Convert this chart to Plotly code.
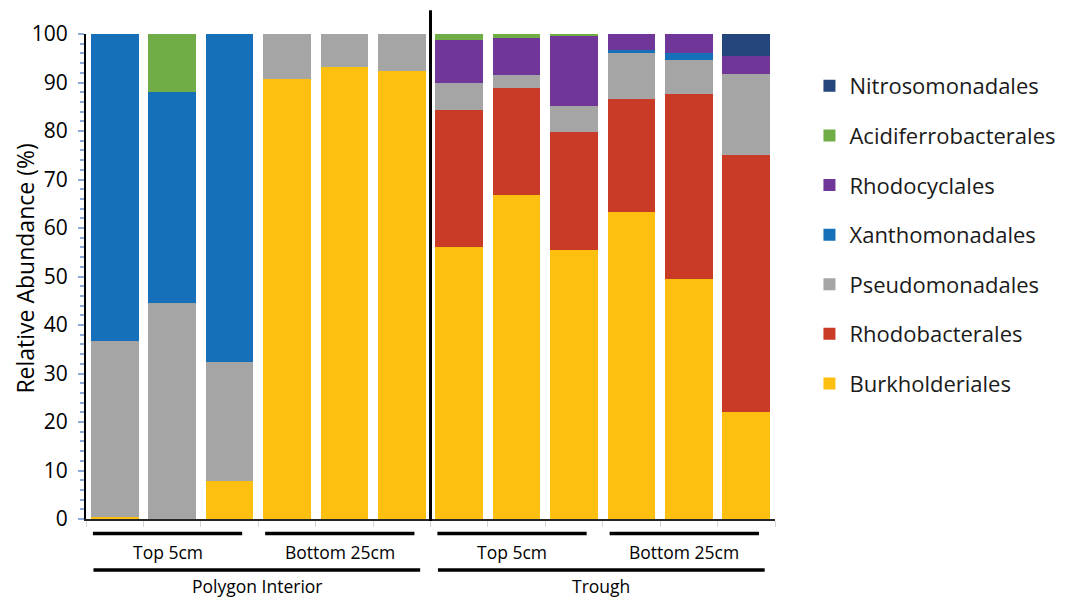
import plotly.graph_objects as go

# Relative abundance (%) of bacterial orders, 12 samples:
# Polygon Interior (Top 5cm x3, Bottom 25cm x3), Trough (Top 5cm x3, Bottom 25cm x3)
burkholderiales = [0.5, 0.0, 7.8, 90.7, 93.1, 92.4, 56.1, 66.9, 55.5, 63.2, 49.5, 22.0]
rhodobacterales = [0.0, 0.0, 0.0, 0.0, 0.0, 0.0, 28.2, 21.9, 24.3, 23.5, 38.2, 53.1]
pseudomonadales = [36.1, 44.5, 24.5, 9.3, 6.9, 7.6, 5.5, 2.7, 5.4, 9.4, 6.9, 16.7]
xanthomonadales = [63.4, 43.5, 67.7, 0.0, 0.0, 0.0, 0.0, 0.0, 0.0, 0.7, 1.4, 0.0]
rhodocyclales = [0.0, 0.0, 0.0, 0.0, 0.0, 0.0, 9.0, 7.6, 14.5, 3.2, 4.0, 3.7]
acidiferrobacterales = [0.0, 12.0, 0.0, 0.0, 0.0, 0.0, 1.2, 0.9, 0.3, 0.0, 0.0, 0.0]
nitrosomonadales = [0.0, 0.0, 0.0, 0.0, 0.0, 0.0, 0.0, 0.0, 0.0, 0.0, 0.0, 4.5]

y_ticks = [0, 10, 20, 30, 40, 50, 60, 70, 80, 90, 100]

# depth groups: (label, first sample, last sample)
depth_groups = [("Top 5cm", 0, 2), ("Bottom 25cm", 3, 5), ("Top 5cm", 6, 8), ("Bottom 25cm", 9, 11)]
site_groups = [("Polygon Interior", 0, 5), ("Trough", 6, 11)]

# stacked bottom-to-top
series = [
    ("Burkholderiales", burkholderiales, "#FDC010"),
    ("Rhodobacterales", rhodobacterales, "#C93A27"),
    ("Pseudomonadales", pseudomonadales, "#A5A5A5"),
    ("Xanthomonadales", xanthomonadales, "#1670B9"),
    ("Rhodocyclales", rhodocyclales, "#713699"),
    ("Acidiferrobacterales", acidiferrobacterales, "#70AD47"),
    ("Nitrosomonadales", nitrosomonadales, "#25467D"),
]

FONT = "Open Sans"
n = len(burkholderiales)
xs = list(range(n))

fig = go.Figure()
for i, (name, vals, color) in enumerate(series):
    fig.add_trace(go.Bar(
        x=xs, y=vals, name=name,
        marker=dict(color=color, line=dict(width=0)),
        legendgroup=name,
        legendrank=100 - i,  # top of the stack listed first
    ))

shapes = []
annotations = []

# divider between the two sites
shapes.append(dict(type="line", xref="x", yref="paper", x0=5.5, x1=5.5,
                   y0=-0.004, y1=1.049, line=dict(color="black", width=3)))

# depth bracket lines + labels
for label, a, b in depth_groups:
    x0, x1 = a - 0.38, b + 0.22
    shapes.append(dict(type="line", xref="x", yref="paper", x0=x0, x1=x1,
                       y0=-0.030, y1=-0.030, line=dict(color="black", width=3.5)))
    annotations.append(dict(text=label, xref="x", yref="paper", x=(x0 + x1) / 2,
                            y=-0.068, showarrow=False, yanchor="middle",
                            font=dict(family=FONT, size=17.5, color="black")))

# site bracket lines + labels
for label, a, b in site_groups:
    x0, x1 = a - 0.37, b + 0.32
    shapes.append(dict(type="line", xref="x", yref="paper", x0=x0, x1=x1,
                       y0=-0.105, y1=-0.105, line=dict(color="black", width=3.5)))
    annotations.append(dict(text=label, xref="x", yref="paper", x=(x0 + x1) / 2,
                            y=-0.138, showarrow=False, yanchor="middle",
                            font=dict(family=FONT, size=17.5, color="black")))

# y-axis title
annotations.append(dict(text="Relative Abundance (%)", xref="paper", yref="paper",
                        x=-0.088, y=0.517, xanchor="center", yanchor="middle",
                        textangle=-90, showarrow=False,
                        font=dict(family=FONT, size=23, color="black")))

fig.update_layout(
    width=1073, height=597, autosize=False,
    margin=dict(l=86, r=295, t=34, b=78),
    paper_bgcolor="white", plot_bgcolor="white",
    barmode="stack", bargap=0.17,
    font=dict(family=FONT, color="black"),
    showlegend=True,
    legend=dict(
        traceorder="grouped", tracegroupgap=18,
        x=1.05, xanchor="left", y=0.936, yanchor="top",
        font=dict(family=FONT, size=22, color="#1a1a1a"),
        bgcolor="rgba(0,0,0,0)", borderwidth=0,
    ),
    xaxis=dict(
        range=[-0.5, n - 0.5], tickmode="array",
        tickvals=[i - 0.5 for i in range(n + 1)], showticklabels=False,
        ticks="outside", ticklen=6, tickcolor="#d4d4d4", tickwidth=1,
        showline=True, linecolor="#262626", linewidth=1.5,
        showgrid=False, zeroline=False, fixedrange=True,
    ),
    yaxis=dict(
        range=[0, 100], tickmode="array", tickvals=y_ticks,
        ticks="outside", ticklen=6, tickcolor="#8EAADB", tickwidth=1.5,
        minor=dict(dtick=2, ticks="outside", ticklen=4, tickcolor="#8EAADB", tickwidth=1.5),
        tickfont=dict(family=FONT, size=21, color="black"),
        ticklabelstandoff=6,
        showline=True, linecolor="black", linewidth=2,
        showgrid=False, zeroline=False,
    ),
    shapes=shapes,
    annotations=annotations,
)

fig.write_html("out.html")
